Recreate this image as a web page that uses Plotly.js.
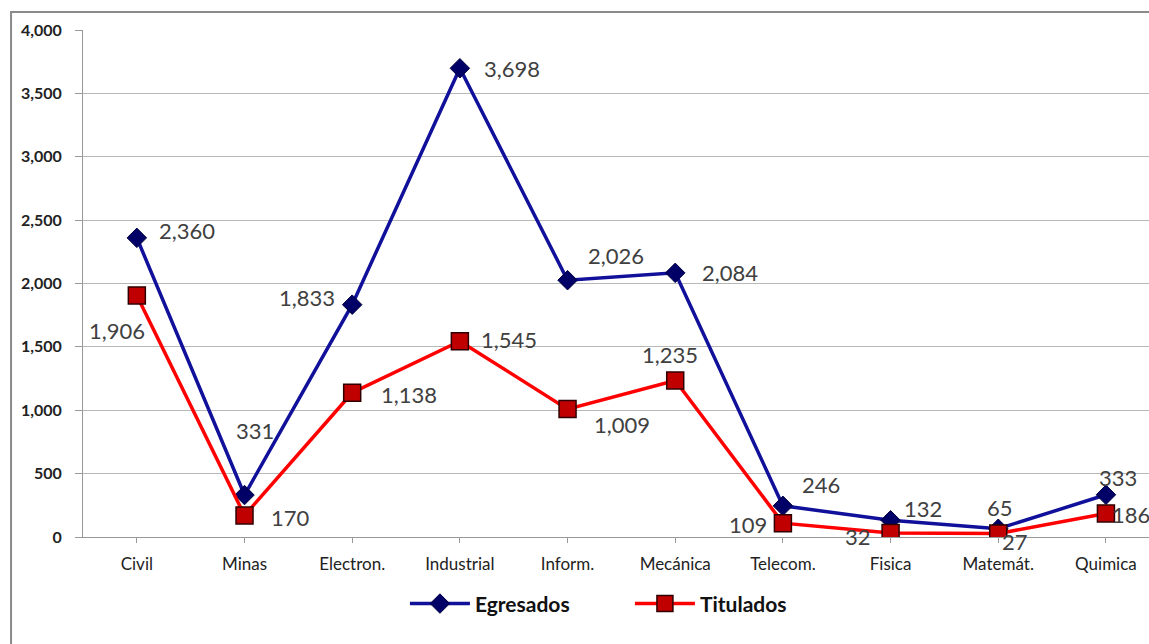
<!DOCTYPE html>
<html>
<head>
<meta charset="utf-8">
<script src="https://cdn.plot.ly/plotly-3.0.1.min.js"></script>
<style>html,body{margin:0;padding:0;background:#fff;}#chart{width:1149px;height:644px;}</style>
</head>
<body>
<div id="chart"></div>
<script>
// ---- data ----
var categories = ["Civil", "Minas", "Electron.", "Industrial", "Inform.", "Mecánica", "Telecom.", "Fisica", "Matemát.", "Quimica"];
var egresados = [2360, 331, 1833, 3698, 2026, 2084, 246, 132, 65, 333];
var titulados = [1906, 170, 1138, 1545, 1009, 1235, 109, 32, 27, 186];
var yTickValues = [0, 500, 1000, 1500, 2000, 2500, 3000, 3500, 4000];

// ---- label offsets (pixels) ----
var egrOffX = [50, 10, -45, 52, 48, 55, 38, 32, 2, 12];
var egrOffY = [-7, -65, -7, 0, -25, 0, -21, -12, -21, -17];
var titOffX = [-20, 46, 57, 49, 54, -5, -35, -33, 17, 25];
var titOffY = [35, 2, 2, -2, 15, -26, 1, 4, 8, 1];

var xIdx = categories.map(function(_, i){ return i; });
var fmt = function(v){ return v.toLocaleString('en-US'); };

var traces = [
  {
    x: xIdx, y: egresados, name: "Egresados", type: "scatter", mode: "lines+markers",
    line: {color: "#10109A", width: 3.5},
    marker: {symbol: "diamond", size: 15, color: "#000066", line: {color: "#000040", width: 1}}
  },
  {
    x: xIdx, y: titulados, name: "Titulados", type: "scatter", mode: "lines+markers",
    line: {color: "#FF0000", width: 3.5},
    marker: {symbol: "square", size: 17, color: "#C00000", line: {color: "#300000", width: 1.5}}
  }
];

var annFont = {family: "Lato, 'Open Sans', sans-serif", size: 22, color: "#404040"};
var annotations = [];
egresados.forEach(function(v, i){
  annotations.push({x: i, y: v, xref: "x", yref: "y", text: fmt(v), showarrow: false,
    xshift: egrOffX[i], yshift: -egrOffY[i], font: annFont});
});
titulados.forEach(function(v, i){
  annotations.push({x: i, y: v, xref: "x", yref: "y", text: fmt(v), showarrow: false,
    xshift: titOffX[i], yshift: -titOffY[i], font: annFont});
});

var layout = {
  width: 1149, height: 644,
  margin: {l: 83, r: 0, t: 30, b: 107},
  paper_bgcolor: "#ffffff", plot_bgcolor: "#ffffff",
  showlegend: true,
  legend: {
    orientation: "h", x: 0.302, xanchor: "left", y: -0.132, yanchor: "middle",
    font: {family: "Lato, 'Open Sans', sans-serif", size: 21, color: "#111", weight: "bold"},
    itemwidth: 60, entrywidth: 150, bgcolor: "rgba(0,0,0,0)"
  },
  xaxis: {
    range: [-0.5, 9.4], tickmode: "array", tickvals: xIdx, ticktext: categories,
    tickson: "boundaries", ticks: "outside", ticklen: 5, tickcolor: "#999",
    showgrid: false, zeroline: false, showline: true, linecolor: "#999", linewidth: 1,
    ticklabelstandoff: 7,
    tickfont: {family: "Lato, 'Open Sans', sans-serif", size: 17, color: "#222"}
  },
  yaxis: {
    range: [0, 4000], tickmode: "array", tickvals: yTickValues,
    ticktext: yTickValues.map(fmt),
    ticks: "outside", ticklen: 7, tickcolor: "#999",
    showgrid: true, gridcolor: "#b8b8b8", gridwidth: 1.2,
    zeroline: false, showline: true, linecolor: "#999", linewidth: 1,
    ticklabelstandoff: 10,
    tickfont: {family: "Lato, 'Open Sans', sans-serif", size: 16, color: "#222", weight: "bold"}
  },
  annotations: annotations,
  shapes: [
    {type: "rect", xref: "paper", yref: "paper", x0: -0.0675, x1: 1.05, y0: -0.3, y1: 1.0355,
     line: {color: "#8a8a8a", width: 2}, fillcolor: "rgba(0,0,0,0)", layer: "below"}
  ]
};

Plotly.newPlot("chart", traces, layout, {displayModeBar: false, staticPlot: true});
</script>
</body>
</html>
